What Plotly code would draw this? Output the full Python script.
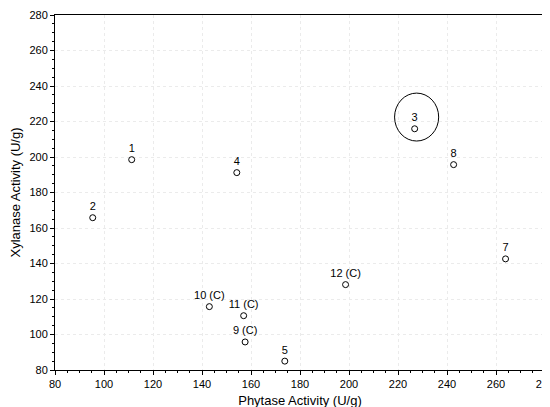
import plotly.graph_objects as go

labels = ["1", "2", "3", "4", "5", "7", "8", "9 (C)", "10 (C)", "11 (C)", "12 (C)"]
phytase = [111.3, 95.4, 226.8, 154.2, 173.8, 263.9, 242.7, 157.6, 143.0, 157.0, 198.6]
xylanase = [198.5, 165.8, 215.9, 191.2, 85.0, 142.6, 195.7, 95.8, 115.7, 110.6, 128.1]

fig = go.Figure(go.Scatter(
    x=phytase, y=xylanase, mode="markers+text", text=labels, textposition="top center",
    marker=dict(symbol="circle-open", size=6, color="black", line=dict(width=1)),
    textfont=dict(family="Liberation Sans, Arial", size=11, color="black"),
    cliponaxis=False, showlegend=False))

fig.add_shape(type="circle", xref="x", yref="y", x0=218.6, x1=236.6, y0=209, y1=236,
              line=dict(color="black", width=1))

ax = dict(showline=True, linecolor="black", linewidth=1, mirror=True, ticks="outside",
          ticklen=4, tickcolor="black", showgrid=True, gridcolor="#ebebeb", griddash="dot",
          zeroline=False, automargin=False,
          minor=dict(ticks="outside", ticklen=2, tickcolor="black", showgrid=False),
          tickfont=dict(size=11, color="black"))
fig.update_xaxes(range=[80, 280], dtick=20, title=dict(text="Phytase Activity (U/g)", standoff=6), **ax)
fig.update_yaxes(range=[80, 280], dtick=20, title=dict(text="Xylanase Activity (U/g)", standoff=6), **ax)
fig.update_layout(width=550, height=407, margin=dict(l=47, r=13, t=7, b=45, autoexpand=False),
                  plot_bgcolor="white", paper_bgcolor="white",
                  font=dict(family="Liberation Sans, Arial", size=11, color="black"))
fig.write_html("out.html")
